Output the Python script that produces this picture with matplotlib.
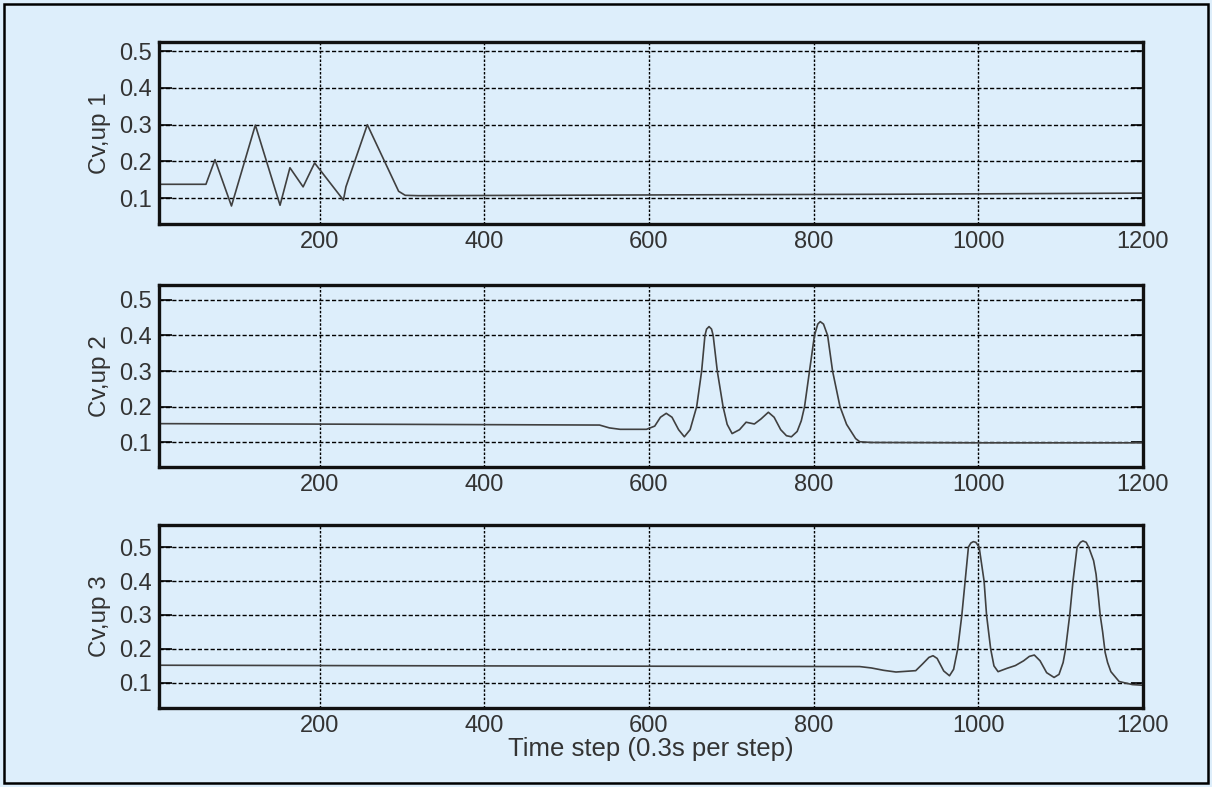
import matplotlib.pyplot as plt
from matplotlib.patches import Rectangle

# values
x1 = [1, 62, 73, 93, 122, 152, 164, 180, 194, 229, 232, 258, 296, 304, 320, 600, 900, 1200]
y1 = [0.138, 0.138, 0.205, 0.079, 0.299, 0.081, 0.183, 0.131, 0.196, 0.095, 0.131, 0.300,
      0.119, 0.108, 0.107, 0.109, 0.111, 0.114]

x2 = [1, 300, 540, 552, 565, 597, 607, 614, 621, 628, 636, 643, 650, 658, 664, 668, 670, 673,
      676, 678, 683, 690, 695, 701, 710, 718, 728, 736, 745, 752, 760, 767, 773, 780, 785, 789,
      795, 801, 805, 808, 812, 817, 823, 832, 840, 851, 856, 870, 1000, 1200]
y2 = [0.152, 0.150, 0.148, 0.140, 0.136, 0.136, 0.145, 0.170, 0.181, 0.170, 0.135, 0.115, 0.135,
      0.200, 0.300, 0.400, 0.418, 0.425, 0.418, 0.400, 0.300, 0.200, 0.150, 0.124, 0.135, 0.156,
      0.151, 0.165, 0.184, 0.170, 0.135, 0.118, 0.115, 0.130, 0.160, 0.200, 0.300, 0.400, 0.432,
      0.439, 0.432, 0.400, 0.300, 0.200, 0.150, 0.110, 0.101, 0.099, 0.098, 0.098]

x3 = [1, 400, 856, 870, 885, 900, 924, 932, 940, 945, 950, 958, 965, 970, 975, 980, 984, 988,
      991, 994, 997, 1001, 1007, 1010, 1015, 1019, 1024, 1035, 1045, 1055, 1062, 1068, 1075, 1083,
      1092, 1098, 1103, 1106, 1111, 1115, 1120, 1124, 1127, 1131, 1134, 1140, 1143, 1146, 1148,
      1151, 1154, 1157, 1161, 1171, 1187, 1200]
y3 = [0.152, 0.150, 0.148, 0.144, 0.137, 0.132, 0.136, 0.155, 0.175, 0.180, 0.172, 0.135, 0.121,
      0.140, 0.200, 0.300, 0.400, 0.500, 0.512, 0.516, 0.514, 0.500, 0.400, 0.300, 0.200, 0.150,
      0.133, 0.143, 0.151, 0.165, 0.178, 0.182, 0.165, 0.130, 0.116, 0.125, 0.160, 0.200, 0.300,
      0.400, 0.500, 0.514, 0.518, 0.514, 0.500, 0.460, 0.420, 0.350, 0.300, 0.250, 0.190, 0.160,
      0.133, 0.104, 0.095, 0.093]

series = [(x1, y1, 'Cv,up 1', (0.030, 0.525)),
          (x2, y2, 'Cv,up 2', (0.030, 0.542)),
          (x3, y3, 'Cv,up 3', (0.026, 0.565))]

yticks = [0.1, 0.2, 0.3, 0.4, 0.5]
xticks = [200, 400, 600, 800, 1000, 1200]

bg = '#ddeefb'
txt = '#333333'
plt.rcParams['font.family'] = ['Liberation Sans', 'DejaVu Sans']

fig = plt.figure(figsize=(12.12, 7.87), dpi=100, facecolor=bg)

# axes boxes in pixels: left, right, top, bottom
left, right = 159, 1143
tops = [42, 285, 525]
bots = [224, 467, 708]
W, H = 1212, 787

for i, (xs, ys, lab, ylim) in enumerate(series):
    ax = fig.add_axes([left / W, 1 - bots[i] / H, (right - left) / W, (bots[i] - tops[i]) / H])
    ax.set_facecolor(bg)
    ax.plot(xs, ys, color='#404040', lw=1.2)
    ax.set_xlim(5, 1200)
    ax.set_ylim(*ylim)
    ax.set_yticks(yticks)
    ax.set_xticks(xticks)
    ax.set_yticklabels(['0.1', '0.2', '0.3', '0.4', '0.5'])
    ax.tick_params(axis='y', direction='in', length=9, width=1.2, left=True, right=True,
                   labelsize=17, pad=5, labelcolor=txt)
    ax.tick_params(axis='x', length=0, labelsize=17, pad=5, labelcolor=txt)
    ax.yaxis.grid(True, color='black', ls=(0, (3, 1.6)), lw=1.0)
    ax.xaxis.grid(True, color='black', ls=(0, (1.8, 1.2)), lw=1.0)
    for s in ax.spines.values():
        s.set_linewidth(2.4)
        s.set_color('#111111')
    ax.set_ylabel(lab, fontsize=17.5, color=txt)
    ax.yaxis.set_label_coords(-0.049, 0.5)
    if i == 2:
        ax.set_xlabel('Time step (0.3s per step)', fontsize=18.5, color=txt)
        ax.xaxis.set_label_coords(0.5, -0.158)

# outer frame
fig.patches.append(Rectangle((4 / W, 4 / H), 1 - 8 / W, 1 - 8 / H, transform=fig.transFigure,
                             fill=False, edgecolor='black', lw=1.8))

fig.savefig('out.png', dpi=100, facecolor=bg)
